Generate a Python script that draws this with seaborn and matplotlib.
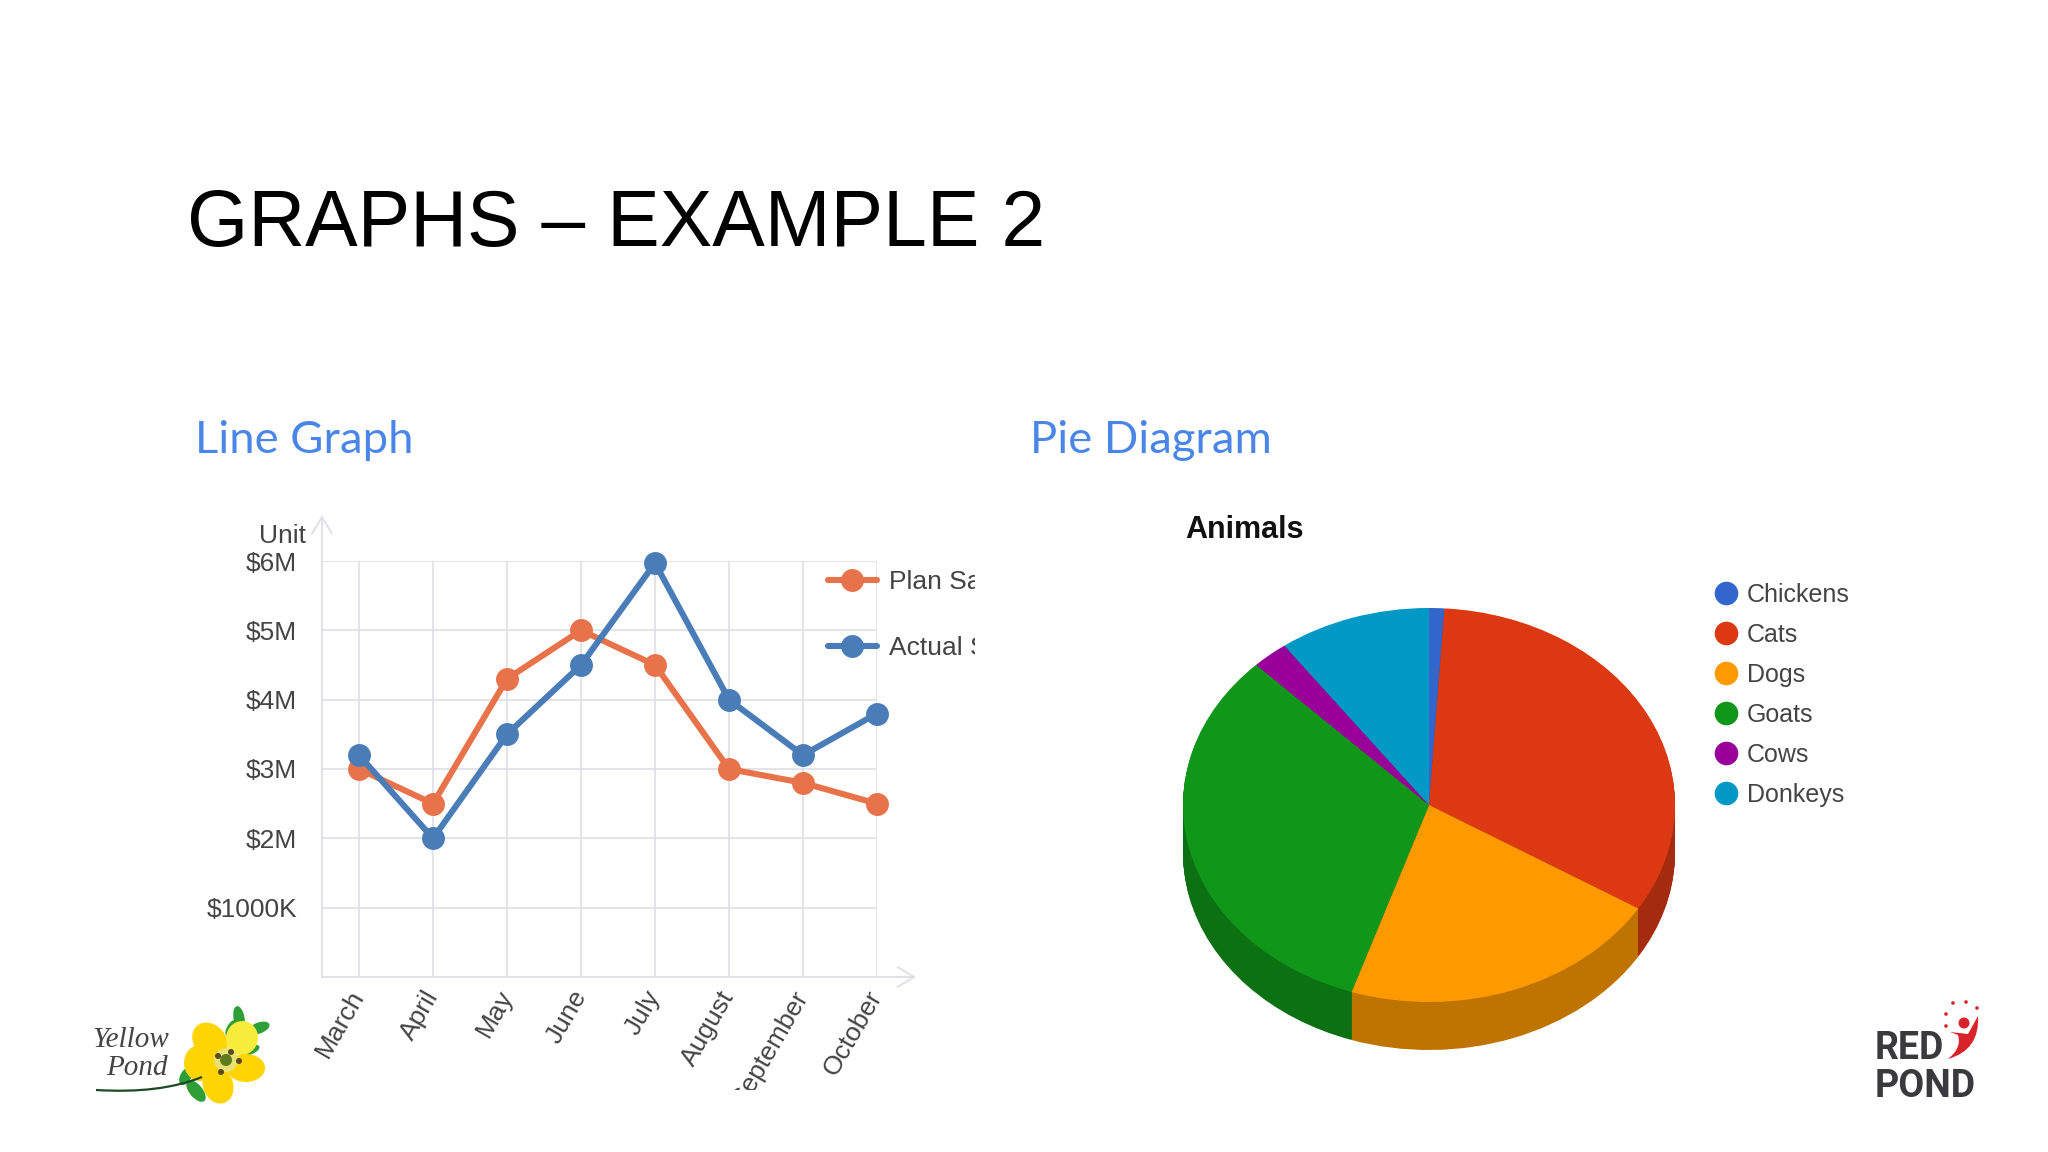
import matplotlib
matplotlib.use("Agg")
import matplotlib.pyplot as plt
import seaborn as sns
import pandas as pd
from matplotlib.lines import Line2D
from matplotlib.patches import Circle, Ellipse, PathPatch
from matplotlib.path import Path
from matplotlib.transforms import Bbox

W, H = 2048, 1152

months = ["March", "April", "May", "June", "July", "August", "September", "October"]
plan_sales = [3.0, 2.5, 4.3, 5.0, 4.5, 3.0, 2.8, 2.5]
actual_sales = [3.2, 2.0, 3.5, 4.5, 5.97, 4.0, 3.2, 3.8]
y_ticks = [1, 2, 3, 4, 5, 6]
y_labels = ["$1000K", "$2M", "$3M", "$4M", "$5M", "$6M"]

animals = ["Chickens", "Cats", "Dogs", "Goats", "Cows", "Donkeys"]
animal_share = [1.0, 32.8, 21.3, 32.5, 2.4, 10.0]
pie_colors = ["#3366cc", "#dc3912", "#ff9900", "#109618", "#990099", "#0099c6"]
wall_colors = ["#264d99", "#a52b0e", "#bf7300", "#0c7112", "#730073", "#007395"]

GRID = "#dedee6"
TEXT = "#444444"
ORANGE = "#e8734a"
BLUE = "#4a7db8"
LINK = "#4a86e8"

sns.set_theme(style="white")
plt.rcParams["font.family"] = ["Liberation Sans", "DejaVu Sans"]


def px_axes(fig, left, top, right, bottom, **kw):
    """Axes placed with pixel edges, y counted from the top."""
    return fig.add_axes([left / W, 1 - bottom / H, (right - left) / W, (bottom - top) / H], **kw)


fig = plt.figure(figsize=(W / 100, H / 100), dpi=100, facecolor="white")

# ----------------------------------------------------------
# Page layer: title, headings, logos (pixel coordinates)
# ----------------------------------------------------------
page = px_axes(fig, 0, 0, W, H)
page.set_xlim(0, W)
page.set_ylim(H, 0)
page.axis("off")

page.text(187, 246, "GRAPHS – EXAMPLE 2", fontsize=56.7, color="black", va="baseline")
page.text(195, 453, "Line Graph", fontsize=32.7, color=LINK, family="Lato", va="baseline")
page.text(1030, 453, "Pie Diagram", fontsize=32.7, color=LINK, family="Lato", va="baseline")

# Yellow Pond logo
for x, y, w, h, a in [(239, 1018, 11, 24, -10), (259, 1028, 11, 22, 70), (196, 1091, 13, 26, -40),
                      (186, 1076, 11, 20, 30), (231, 1028, 8, 18, 30), (250, 1050, 9, 20, 70)]:
    page.add_patch(Ellipse((x, y), w, h, angle=a, color="#2e9e37", lw=0))
page.add_patch(Ellipse((210, 1041), 32, 40, angle=-40, color="#ffd400", lw=0))
page.add_patch(Ellipse((242, 1038), 32, 34, angle=10, color="#f7ec3c", lw=0))
page.add_patch(Ellipse((246, 1068), 38, 28, angle=0, color="#ffd400", lw=0))
page.add_patch(Ellipse((218, 1085), 30, 38, angle=-20, color="#ffd400", lw=0))
page.add_patch(Ellipse((200, 1063), 32, 36, angle=0, color="#ffd400", lw=0))
page.add_patch(Circle((226, 1060), 12, color="#e8e070", lw=0))
page.add_patch(Circle((226, 1060), 6, color="#5d7a20", lw=0))
for x, y in [(231, 1052), (239, 1061), (221, 1072), (218, 1056)]:
    page.add_patch(Circle((x, y), 3, color="#5a4a20", lw=0))
page.add_patch(PathPatch(Path([(96, 1090), (160, 1094), (202, 1077)], [Path.MOVETO, Path.CURVE3, Path.CURVE3]),
                         fc="none", ec="#1c4a22", lw=1.6))
page.text(92, 1047, "Yellow", fontsize=21, family="Liberation Serif", style="italic", color=TEXT, va="baseline")
page.text(106, 1075, "Pond", fontsize=21, family="Liberation Serif", style="italic", color=TEXT, va="baseline")

# Red Pond logo
page.text(1875, 1059, "RED", fontsize=27, weight="bold", color="#3a3a3c", va="baseline", family="Roboto")
page.text(1875, 1097, "POND", fontsize=27, weight="bold", color="#3a3a3c", va="baseline", family="Roboto")
for x, y in [(1953, 1003), (1966, 1002), (1977, 1008), (1946, 1014), (1946, 1026)]:
    page.add_patch(Circle((x, y), 1.8, color="#d9232a", lw=0))
page.add_patch(Circle((1964, 1023), 5.5, color="#d9232a", lw=0))
page.add_patch(PathPatch(Path([(1978, 1016), (1980, 1050), (1948, 1059), (1962, 1048), (1958, 1035),
                               (1950, 1032), (1968, 1034), (1978, 1016)],
                              [Path.MOVETO, Path.CURVE3, Path.CURVE3, Path.CURVE3, Path.CURVE3,
                               Path.LINETO, Path.LINETO, Path.CLOSEPOLY]),
                         fc="#d9232a", ec="none"))

# ----------------------------------------------------------
# Line graph
# ----------------------------------------------------------
sales = pd.DataFrame({
    "month": months * 2,
    "sales": plan_sales + actual_sales,
    "series": ["Plan Sales"] * len(months) + ["Actual Sales"] * len(months),
})

ax = px_axes(fig, 322, 561, 877, 977)
ax.patch.set_alpha(0)
sns.lineplot(data=sales, x="month", y="sales", hue="series", sort=False, ax=ax,
             palette={"Plan Sales": ORANGE, "Actual Sales": BLUE}, errorbar=None,
             linewidth=4.4, marker="o", markersize=16.5, markeredgewidth=0, clip_on=False, zorder=3)
ax.set_xlim(-0.5, 7)
ax.set_ylim(0, 6)
ax.set_xlabel("")
ax.set_ylabel("")
ax.set_yticks(y_ticks, y_labels)
ax.set_xticks(range(len(months)), months)
ax.grid(True, color=GRID, linewidth=1.2)
ax.set_axisbelow(True)
for side in ["top", "right"]:
    ax.spines[side].set_visible(False)
for side in ["left", "bottom"]:
    ax.spines[side].set_color(GRID)
    ax.spines[side].set_linewidth(1.3)
ax.tick_params(axis="both", length=8, width=1.2, color=GRID, labelcolor=TEXT, labelsize=19)
ax.tick_params(axis="y", pad=10)
ax.tick_params(axis="x", pad=3)

# the screenshot of this chart was cut at its right and bottom edges
crop = Bbox.from_extents(0, H - 1090, 975, H)
for lab in ax.get_xticklabels():
    lab.set_rotation(60)
    lab.set_ha("right")
    lab.set_va("center")
    lab.set_rotation_mode("anchor")
    lab.set_clip_on(True)
    lab.set_clip_box(crop)

arrow = dict(arrowstyle="->,head_length=1.0,head_width=0.6", color=GRID, lw=1.3, shrinkA=0, shrinkB=0)
ax.annotate("", xy=(0, 1.11), xytext=(0, 1), xycoords="axes fraction", textcoords="axes fraction", arrowprops=arrow)
ax.annotate("", xy=(1.07, 0), xytext=(1, 0), xycoords="axes fraction", textcoords="axes fraction", arrowprops=arrow)
page.text(306, 543, "Unit", fontsize=19, color=TEXT, ha="right", va="baseline")

handles, labels = ax.get_legend_handles_labels()
leg = ax.legend(handles, labels, frameon=False, loc="upper left", fontsize=19, labelcolor=TEXT,
                bbox_to_anchor=(828 / W, 1 - 570 / H), bbox_transform=fig.transFigure,
                borderpad=0, borderaxespad=0, handlelength=1.85, handletextpad=0.45, labelspacing=1.6)
for t in leg.get_texts():
    t.set_clip_on(True)
    t.set_clip_box(crop)

# ----------------------------------------------------------
# Pie diagram (tilted, with a darker wall below the top face)
# ----------------------------------------------------------
cx, cy, rx, ry, depth = 1429, 805, 246, 197, 48
pie_ax = px_axes(fig, cx - 1.1 * rx, cy - 1.1 * ry, cx + 1.1 * rx, cy + 1.1 * ry + depth)
pie_ax.patch.set_alpha(0)
for off in range(depth, 0, -1):
    pie_ax.pie(animal_share, colors=wall_colors, startangle=90, counterclock=False,
               center=(0, -off / ry), wedgeprops={"linewidth": 0})
pie_ax.pie(animal_share, colors=pie_colors, startangle=90, counterclock=False, wedgeprops={"linewidth": 0})
pie_ax.set_aspect("auto")
pie_ax.set_xlim(-1.1, 1.1)
pie_ax.set_ylim(-1.1 - depth / ry, 1.1)

page.text(1185, 538, "Animals", fontsize=22, weight="bold", color="#111111", va="baseline")

pie_handles = [Line2D([], [], linestyle="none", marker="o", markersize=17, markeredgewidth=0, color=c)
               for c in pie_colors]
fig.legend(pie_handles, animals, frameon=False, loc="upper left", fontsize=18, labelcolor=TEXT,
           bbox_to_anchor=(1711 / W, 1 - 583 / H), borderpad=0, borderaxespad=0,
           handlelength=1.2, handletextpad=0.25, labelspacing=0.64)

fig.savefig("out.png", dpi=100, facecolor="white")
